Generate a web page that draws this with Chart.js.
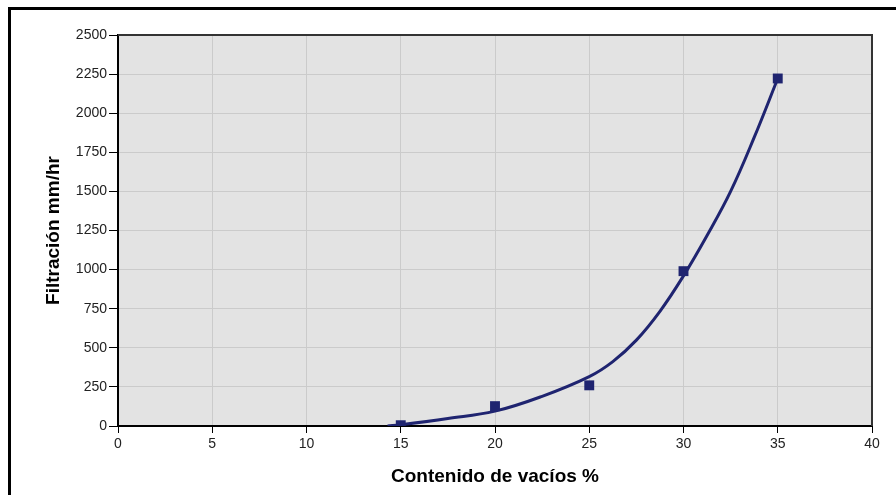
<!DOCTYPE html>
<html lang="es">
<head>
<meta charset="UTF-8">
<title>Filtración vs contenido de vacíos</title>
<script src="https://cdn.jsdelivr.net/npm/chart.js"></script>
<style>
    body { margin: 0; background: #fff; }
    .wrap { position: relative; width: 896px; height: 495px; overflow: hidden; }
    /* marco negro exterior (solo izquierda y arriba, como en la imagen) */
    .frame {
        position: absolute; left: 8px; top: 7px; width: 900px; height: 500px;
        border-left: 3px solid #000; border-top: 3px solid #000; pointer-events: none;
    }
    #chart { position: absolute; left: 0; top: 0; }
</style>
</head>
<body>
<div class="wrap">
    <canvas id="chart" width="896" height="495"></canvas>
    <div class="frame"></div>
</div>
<script>
    // puntos medidos
    const pointX = [15, 20, 25, 30, 35];
    const pointY = [5, 127, 260, 990, 2222];
    // curva de ajuste
    const curveX = [14.3, 15, 17.5, 20, 22.5, 25, 26.25, 27.5, 28.75, 30, 31.25, 32.5, 33.75, 35];
    const curveY = [0, 8, 48, 95, 190, 316, 412, 549, 733, 960, 1218, 1500, 1845, 2222];
    // ejes
    const xMin = 0, xMax = 40, xStep = 5;
    const yMin = 0, yMax = 2500, yStep = 250;

    const navy = '#1f2470';
    const fontFam = "'Liberation Sans', Arial, sans-serif";

    const toXY = (xs, ys) => xs.map((x, i) => ({ x: x, y: ys[i] }));

    const plotBg = {
        id: 'plotBg',
        beforeDraw(chart) {
            const { ctx, chartArea: a } = chart;
            ctx.save();
            ctx.fillStyle = '#e3e3e3';
            ctx.fillRect(a.left, a.top, a.right - a.left, a.bottom - a.top);
            ctx.restore();
        },
        afterDraw(chart) {
            const { ctx, chartArea: a } = chart;
            ctx.save();
            ctx.strokeStyle = '#333';
            ctx.lineWidth = 2;
            ctx.beginPath();
            ctx.moveTo(a.left, a.top);
            ctx.lineTo(a.right, a.top);
            ctx.lineTo(a.right, a.bottom);
            ctx.stroke();
            ctx.restore();
        }
    };

    new Chart(document.getElementById('chart').getContext('2d'), {
        type: 'line',
        data: {
            datasets: [{
                data: toXY(pointX, pointY),
                showLine: false,
                pointStyle: 'rect',
                pointRadius: 7,
                pointBackgroundColor: navy,
                pointBorderColor: navy,
                pointBorderWidth: 0
            }, {
                data: toXY(curveX, curveY),
                borderColor: navy,
                borderWidth: 3,
                pointRadius: 0,
                fill: false,
                tension: 0.4
            }]
        },
        options: {
            responsive: false,
            animation: false,
            layout: { padding: { left: 0, top: 35, right: 24, bottom: 0 } },
            plugins: { legend: { display: false }, tooltip: { enabled: false } },
            scales: {
                x: {
                    type: 'linear',
                    min: xMin, max: xMax,
                    ticks: {
                        stepSize: xStep, color: '#222', padding: 3,
                        font: { family: fontFam, size: 14 },
                        callback: v => String(v)
                    },
                    grid: { color: '#cbcbcb', tickColor: '#000', tickLength: 7 },
                    border: { color: '#000', width: 2 },
                    title: {
                        display: true, text: 'Contenido de vacíos %', color: '#000',
                        font: { family: fontFam, size: 19, weight: 'bold' },
                        padding: { top: 0, bottom: 7 }
                    },
                    afterFit(scale) { scale.height = 69; }
                },
                y: {
                    min: yMin, max: yMax,
                    ticks: {
                        stepSize: yStep, color: '#222', padding: 2,
                        font: { family: fontFam, size: 14 },
                        callback: v => String(v)
                    },
                    grid: { color: '#cbcbcb', tickColor: '#000', tickLength: 9 },
                    border: { color: '#000', width: 2 },
                    title: {
                        display: true, text: 'Filtración mm/hr', color: '#000',
                        font: { family: fontFam, size: 19, weight: 'bold' },
                        padding: { top: 42, bottom: 0 }
                    },
                    afterFit(scale) { scale.width = 118; }
                }
            }
        },
        plugins: [plotBg]
    });
</script>
</body>
</html>
